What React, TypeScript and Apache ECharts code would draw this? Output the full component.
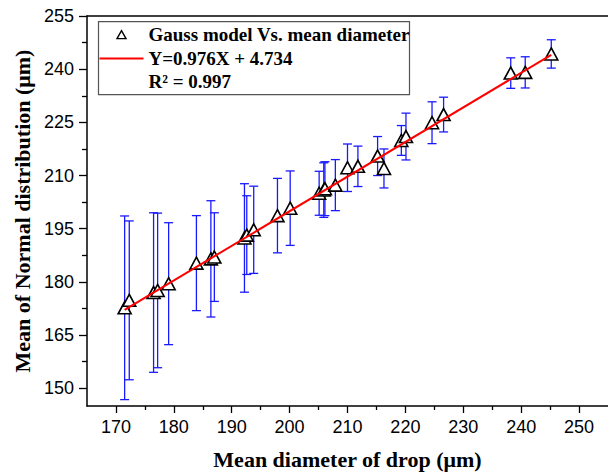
import React, { useEffect, useRef } from "react";
import * as echarts from "echarts";

// Mean drop diameter (µm) against the mean of the fitted normal distribution (µm) ± SD
const DIAMETER = [171.5, 172.3, 176.5, 177.2, 179.1, 183.9, 186.4, 187.0, 192.2, 192.6, 193.8, 197.9, 200.1, 205.1, 205.9, 206.1, 207.9, 210.0, 211.8, 215.2, 216.3, 219.3, 220.1, 224.6, 226.6, 238.2, 240.7, 245.2];
const NORMAL_MEAN = [172.7, 174.8, 177.0, 177.6, 179.5, 185.3, 186.5, 187.0, 192.4, 193.2, 194.7, 198.7, 200.8, 205.0, 205.9, 206.3, 207.3, 212.2, 212.6, 215.5, 212.0, 219.9, 221.0, 224.9, 227.2, 238.9, 239.1, 244.3];
const NORMAL_SD = [25.9, 22.4, 22.5, 21.8, 17.2, 13.4, 16.4, 12.5, 15.3, 11.1, 12.3, 10.5, 10.5, 6.2, 7.7, 7.6, 7.2, 6.7, 5.7, 5.5, 5.5, 4.2, 6.6, 5.9, 4.9, 4.3, 4.4, 4.0];

// Linear fit Y = aX + b
const FIT_SLOPE = 0.976;
const FIT_INTERCEPT = 4.734;
const FIT_R2 = 0.997;

const X_MAJOR = [170, 180, 190, 200, 210, 220, 230, 240, 250];
const X_MINOR = [175, 185, 195, 205, 215, 225, 235, 245];
const Y_MAJOR = [150, 165, 180, 195, 210, 225, 240, 255];
const Y_MINOR = [157.5, 172.5, 187.5, 202.5, 217.5, 232.5, 247.5];

const LEGEND_POINTS = "Gauss model Vs. mean diameter";
const LEGEND_FIT = `Y=${FIT_SLOPE.toFixed(3)}X + ${FIT_INTERCEPT.toFixed(3)}`;
const LEGEND_R2 = `R\u00B2 = ${FIT_R2.toFixed(3)}`;

const SERIF = "'Liberation Serif', 'Times New Roman', serif";
const SANS = "'Liberation Sans', Arial, sans-serif";

export default function App() {
  const ref = useRef<HTMLDivElement>(null);

  useEffect(() => {
    if (!ref.current) return;
    const chart = echarts.init(ref.current, null, { renderer: "svg" });

    const points = DIAMETER.map((x, i) => [x, NORMAL_MEAN[i], NORMAL_SD[i]]);
    const xStart = Math.min(...DIAMETER);
    const xEnd = Math.max(...DIAMETER);
    const fitLine = [xStart, xEnd].map((x) => [x, FIT_SLOPE * x + FIT_INTERCEPT]);

    const xBase = { type: "value", min: 165, max: 255, splitLine: { show: false } };
    const yBase = { type: "value", min: 145, max: 255, splitLine: { show: false } };
    const axisLine = { show: true, lineStyle: { color: "#000", width: 1.5 } };

    chart.setOption({
      animation: false,
      backgroundColor: "#fff",
      grid: { left: 87, top: 16, width: 530, height: 391, containLabel: false },
      xAxis: [
        {
          ...xBase,
          position: "bottom",
          axisLine,
          axisTick: { show: true, length: 7, inside: false, customValues: X_MAJOR, lineStyle: { color: "#000", width: 1.3 } },
          axisLabel: { customValues: X_MAJOR, margin: 12, color: "#000", fontSize: 18, fontFamily: SANS },
          name: "Mean diameter of drop (\u03BCm)",
          nameLocation: "middle",
          nameGap: 42,
          nameTextStyle: { color: "#000", fontSize: 22, fontWeight: "bold", fontFamily: SERIF },
        },
        {
          ...xBase,
          position: "bottom",
          axisLine: { show: false },
          axisTick: { show: true, length: 4, customValues: X_MINOR, lineStyle: { color: "#000", width: 1.3 } },
          axisLabel: { show: false },
        },
        {
          ...xBase,
          position: "top",
          axisLine,
          axisTick: { show: false },
          axisLabel: { show: false },
        },
      ],
      yAxis: [
        {
          ...yBase,
          position: "left",
          axisLine,
          axisTick: { show: true, length: 8, customValues: Y_MAJOR, lineStyle: { color: "#000", width: 1.3 } },
          axisLabel: { customValues: Y_MAJOR, margin: 13, color: "#000", fontSize: 18, fontFamily: SANS },
          name: "Mean of Normal distribution (\u03BCm)",
          nameLocation: "middle",
          nameGap: 54,
          nameTextStyle: { color: "#000", fontSize: 22, fontWeight: "bold", fontFamily: SERIF },
        },
        {
          ...yBase,
          position: "left",
          axisLine: { show: false },
          axisTick: { show: true, length: 5, customValues: Y_MINOR, lineStyle: { color: "#000", width: 1.3 } },
          axisLabel: { show: false },
        },
      ],
      series: [
        {
          type: "custom",
          name: "SD",
          xAxisIndex: 0,
          yAxisIndex: 0,
          z: 1,
          data: points,
          renderItem: (_params: any, api: any) => {
            const x = api.value(0);
            const y = api.value(1);
            const e = api.value(2);
            const top = api.coord([x, y + e]);
            const bot = api.coord([x, y - e]);
            const hw = 4.5;
            const style = { stroke: "#1a1aff", lineWidth: 1.3 };
            return {
              type: "group",
              children: [
                { type: "line", shape: { x1: top[0], y1: top[1], x2: bot[0], y2: bot[1] }, style },
                { type: "line", shape: { x1: top[0] - hw, y1: top[1], x2: top[0] + hw, y2: top[1] }, style },
                { type: "line", shape: { x1: bot[0] - hw, y1: bot[1], x2: bot[0] + hw, y2: bot[1] }, style },
              ],
            };
          },
        },
        {
          type: "scatter",
          name: LEGEND_POINTS,
          xAxisIndex: 0,
          yAxisIndex: 0,
          z: 2,
          symbol: "triangle",
          symbolSize: [13, 12],
          itemStyle: { color: "#fff", borderColor: "#000", borderWidth: 1.6, opacity: 1 },
          data: points.map((p) => [p[0], p[1]]),
        },
        {
          type: "line",
          name: LEGEND_FIT,
          xAxisIndex: 0,
          yAxisIndex: 0,
          z: 3,
          symbol: "none",
          lineStyle: { color: "#ff0000", width: 2 },
          data: fitLine,
        },
      ],
      graphic: [
        {
          type: "group",
          left: 97,
          top: 21,
          children: [
            { type: "rect", shape: { x: 0, y: 0, width: 311, height: 73 }, style: { fill: "#fff", stroke: "#555", lineWidth: 1.2 } },
            { type: "polygon", shape: { points: [[18.5, 17], [27.5, 17], [23, 9]] }, style: { fill: "#fff", stroke: "#000", lineWidth: 1.4 } },
            { type: "line", shape: { x1: 1, y1: 37, x2: 45, y2: 37 }, style: { stroke: "#ff0000", lineWidth: 2 } },
            { type: "text", x: 50, y: 13, style: { text: LEGEND_POINTS, fill: "#000", font: `bold 19px ${SERIF}`, verticalAlign: "middle" } },
            { type: "text", x: 50, y: 37, style: { text: LEGEND_FIT, fill: "#000", font: `bold 19px ${SERIF}`, verticalAlign: "middle" } },
            { type: "text", x: 50, y: 60, style: { text: LEGEND_R2, fill: "#000", font: `bold 19px ${SERIF}`, verticalAlign: "middle" } },
          ],
        },
      ],
    });

    return () => chart.dispose();
  }, []);

  return (
    <div
      ref={ref}
      style={{ position: "absolute", left: 0, top: 0, width: 608, height: 475, overflow: "hidden" }}
    />
  );
}
